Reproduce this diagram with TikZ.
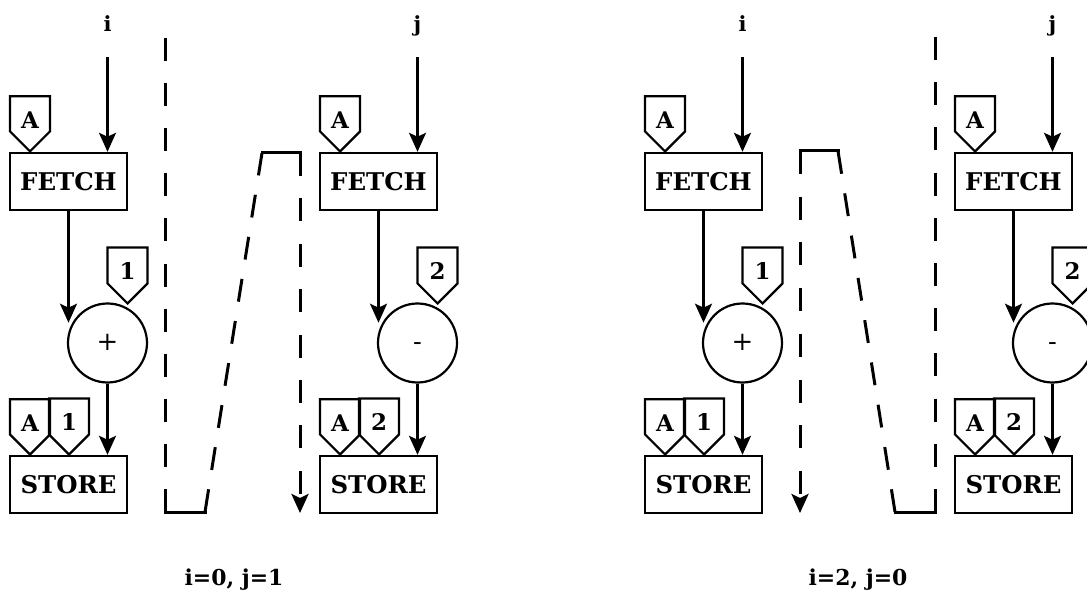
\documentclass[tikz,border=0pt]{standalone}
\usepackage{fontspec}
\setmainfont{DejaVu Serif}
\usepackage{tikz}
\usetikzlibrary{arrows.meta, shapes.symbols}
\tikzset{unit/.style={draw, rectangle, line width=2.4bp, minimum width=117bp,
        minimum height=57bp, inner sep=0pt, font=\fontsize{24.5}{29}\selectfont\bfseries},
    op/.style={draw, circle, line width=2.2bp, minimum size=79bp, inner sep=0pt,
        text height=14bp, text depth=0pt, font=\fontsize{26}{30}\selectfont},
    tag/.style={draw, shape=signal, signal to=south, signal from=nowhere,
        signal pointer angle=90, line width=2.2bp, minimum width=40bp,
        minimum height=44bp, inner sep=0pt, anchor=south,
        text height=29bp, text depth=0pt,
        font=\fontsize{23}{27}\selectfont\bfseries},
    index/.style={inner sep=2bp, text height=15bp, text depth=5bp,
        font=\fontsize{21}{25}\selectfont\bfseries},
    link/.style={-{Stealth[length=19bp,width=17bp,inset=4bp]}, line width=2.4bp},
    flow/.style={line width=3bp, dash pattern=on 23bp off #1bp},
    corner/.style={line width=3bp, line cap=rect}}

\begin{document}
\begin{tikzpicture}[x=1bp, y=-1bp]
    \useasboundingbox (0,0) rectangle (1087,594);
    \clip (0,0) rectangle (1087,594);

    % one column: fetch, operation, store
    \foreach \col/\id/\var/\sym/\num in {10/a/i/+/1, 320/b/j/-/2, 645/c/i/+/1, 955/d/j/-/2} {
        \node[unit] (fetch\id) at (\col+58.5,181.5) {FETCH};
        \node[unit] (store\id) at (\col+58.5,484.5) {STORE};
        \node[op] (op\id) at (\col+97.5,343) {\sym};
        \node[index] (idx\id) at (\col+97.5,27) {\var};
        \node[tag] (tf\id) at (\col+20,153) {A};
        \node[tag] (to\id) at (\col+117.5,305) {\num};
        \node[tag] (tsa\id) at (\col+20,456) {A};
        \node[tag] (tsn\id) at (\col+59,456) {\num};
        \draw[link, shorten <=18bp] (idx\id) -- (fetch\id.north -| idx\id);
        \draw[link] (fetch\id.south) -- (fetch\id.south |- op\id.150);
        \draw[link] (op\id) -- (store\id.north -| op\id);
    }

    % dashed route, left case
    \coordinate (r1) at (165,38);
    \coordinate (r2) at (165,512);
    \coordinate (r3) at (205,512);
    \coordinate (r4) at (262,153);
    \coordinate (r5) at (300,153);
    \coordinate (r6) at (300,513);
    \draw[flow=22.1] (r1) -- (r2);
    \draw[corner] (r2) -- (r3);
    \draw[flow=19.6] (r3) -- (r4);
    \draw[corner] (r4) -- (r5);
    \draw[flow=22.4, -{Stealth[length=19bp,width=17bp,inset=4bp]}] (r5) -- (r6);

    % dashed route, right case
    \coordinate (q1) at (935,37);
    \coordinate (q2) at (935,512);
    \coordinate (q3) at (895,512);
    \coordinate (q4) at (838,151);
    \coordinate (q5) at (800,151);
    \coordinate (q6) at (800,513);
    \draw[flow=22.2] (q1) -- (q2);
    \draw[corner] (q2) -- (q3);
    \draw[flow=19.8] (q3) -- (q4);
    \draw[corner] (q4) -- (q5);
    \draw[flow=22.7, -{Stealth[length=19bp,width=17bp,inset=4bp]}] (q5) -- (q6);

    \node[index, font=\fontsize{22}{26}\selectfont\bfseries] (casea) at (234,580) {i=0, j=1};
    \node[index, font=\fontsize{22}{26}\selectfont\bfseries] (caseb) at (858,580) {i=2, j=0};
\end{tikzpicture}
\end{document}
